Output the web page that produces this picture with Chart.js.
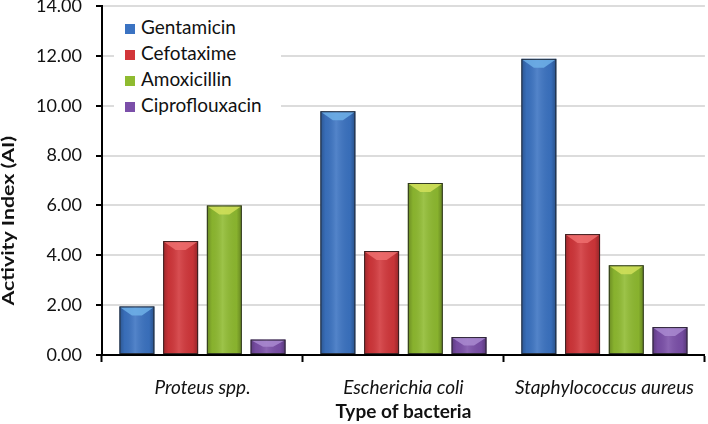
<!DOCTYPE html>
<html>
<head>
<meta charset="utf-8">
<script src="https://cdn.jsdelivr.net/npm/chart.js@4"></script>
<style>
  body { margin: 0; background: #fff; }
  #wrap { position: relative; width: 708px; height: 424px; }
  #legend { position: absolute; left: 114px; top: 12px; width: 156px; background: #fff;
    font-family: Lato, "Open Sans", sans-serif; font-size: 19px; color: #111; padding: 2px 0 4px 11px; }
  #legend div { height: 26px; line-height: 26px; }
  #legend span { display: inline-block; width: 10px; height: 10px; margin-right: 6px; vertical-align: 0px; }
</style>
</head>
<body>
<div id="wrap">
  <canvas id="chart" width="708" height="424"></canvas>
  <div id="legend"></div>
</div>
<script>
const categories = ['Proteus spp.', 'Escherichia coli', 'Staphylococcus aureus'];
const drugs = ['Gentamicin', 'Cefotaxime', 'Amoxicillin', 'Ciproflouxacin'];
const gentamicin = [1.95, 9.78, 11.88];
const cefotaxime = [4.57, 4.17, 4.85];
const amoxicillin = [6.00, 6.90, 3.60];
const ciproflouxacin = [0.62, 0.72, 1.12];
const yTitle = 'Activity Index (AI)';
const colors = ['#3b73c2', '#d2363a', '#8fbb30', '#7b4fa9'];
const bevels = ['#6fb0e8', '#ee6f6f', '#d2e05a', '#a98ad0'];

// legend
const leg = document.getElementById('legend');
drugs.forEach((d, i) => {
    const row = document.createElement('div');
    row.innerHTML = '<span style="background:' + colors[i] + '"></span>' + d;
    leg.appendChild(row);
});

const font = 'Lato, "Open Sans", sans-serif';

// shading on each bar: darker edges, lighter top chevron
const bevelPlugin = {
    id: 'bevel',
    afterDatasetsDraw(chart) {
        const ctx = chart.ctx;
        chart.data.datasets.forEach((ds, i) => {
            chart.getDatasetMeta(i).data.forEach(bar => {
                const p = bar.getProps(['x', 'y', 'base', 'width'], true);
                const l = p.x - p.width / 2, r = p.x + p.width / 2;
                const g = ctx.createLinearGradient(l, 0, r, 0);
                g.addColorStop(0, 'rgba(0,0,0,0.25)');
                g.addColorStop(0.15, 'rgba(0,0,0,0.05)');
                g.addColorStop(0.45, 'rgba(255,255,255,0.12)');
                g.addColorStop(0.85, 'rgba(0,0,0,0.05)');
                g.addColorStop(1, 'rgba(0,0,0,0.3)');
                ctx.save();
                ctx.fillStyle = g;
                ctx.fillRect(l, p.y, p.width, p.base - p.y);
                const h = Math.min(9, (p.base - p.y) / 2);
                ctx.beginPath();
                ctx.moveTo(l + 1, p.y + 1);
                ctx.lineTo(r - 1, p.y + 1);
                ctx.lineTo(p.x + 5, p.y + h);
                ctx.lineTo(p.x - 5, p.y + h);
                ctx.closePath();
                ctx.fillStyle = bevels[i];
                ctx.globalAlpha = 0.85;
                ctx.fill();
                ctx.globalAlpha = 1;
                ctx.strokeStyle = 'rgba(30,30,30,0.8)';
                ctx.lineWidth = 1;
                ctx.strokeRect(l + 0.5, p.y + 0.5, p.width - 1, p.base - p.y - 1);
                ctx.restore();
            });
        });
    }
};

// y axis title, stretched along its length like the original
const yTitlePlugin = {
    id: 'ytitle',
    afterDraw(chart) {
        const ctx = chart.ctx;
        const a = chart.chartArea;
        ctx.save();
        ctx.translate(9, a.top + (a.bottom - a.top) * 0.615);
        ctx.rotate(-Math.PI / 2);
        ctx.scale(1.25, 1);
        ctx.font = 'bold 17px ' + font;
        ctx.fillStyle = '#111';
        ctx.textAlign = 'center';
        ctx.textBaseline = 'middle';
        ctx.fillText(yTitle, 0, 0);
        ctx.restore();
    }
};

new Chart(document.getElementById('chart'), {
    type: 'bar',
    data: {
        labels: categories,
        datasets: [gentamicin, cefotaxime, amoxicillin, ciproflouxacin].map((d, i) => ({
            label: drugs[i],
            data: d,
            backgroundColor: colors[i],
            borderWidth: 0,
            categoryPercentage: 0.87,
            barPercentage: 0.8
        }))
    },
    options: {
        responsive: false,
        animation: false,
        layout: { padding: { top: 6, right: 1, left: 0, bottom: 0 } },
        plugins: { legend: { display: false }, tooltip: { enabled: false } },
        scales: {
            x: {
                grid: { offset: true, drawOnChartArea: false, tickLength: 7, tickColor: '#000', tickWidth: 2 },
                border: { color: '#000', width: 2 },
                ticks: { color: '#111', font: { family: font, size: 19, style: 'italic' }, padding: 14 },
                title: { display: true, text: 'Type of bacteria', color: '#111',
                    font: { family: font, size: 19, weight: 'bold' }, padding: { top: 6, bottom: 1 } },
                afterFit: s => { s.height = 69; }
            },
            y: {
                min: 0, max: 14,
                grid: { color: '#dcdcdc', lineWidth: 2, tickLength: 6, tickColor: '#000', tickWidth: 2 },
                border: { color: '#000', width: 2 },
                ticks: { stepSize: 2, color: '#111', font: { family: font, size: 18 }, padding: 14,
                    callback: v => v.toFixed(2) },
                afterFit: s => { s.width = 102; s.paddingTop = 0; }
            }
        }
    },
    plugins: [bevelPlugin, yTitlePlugin]
});
</script>
</body>
</html>
